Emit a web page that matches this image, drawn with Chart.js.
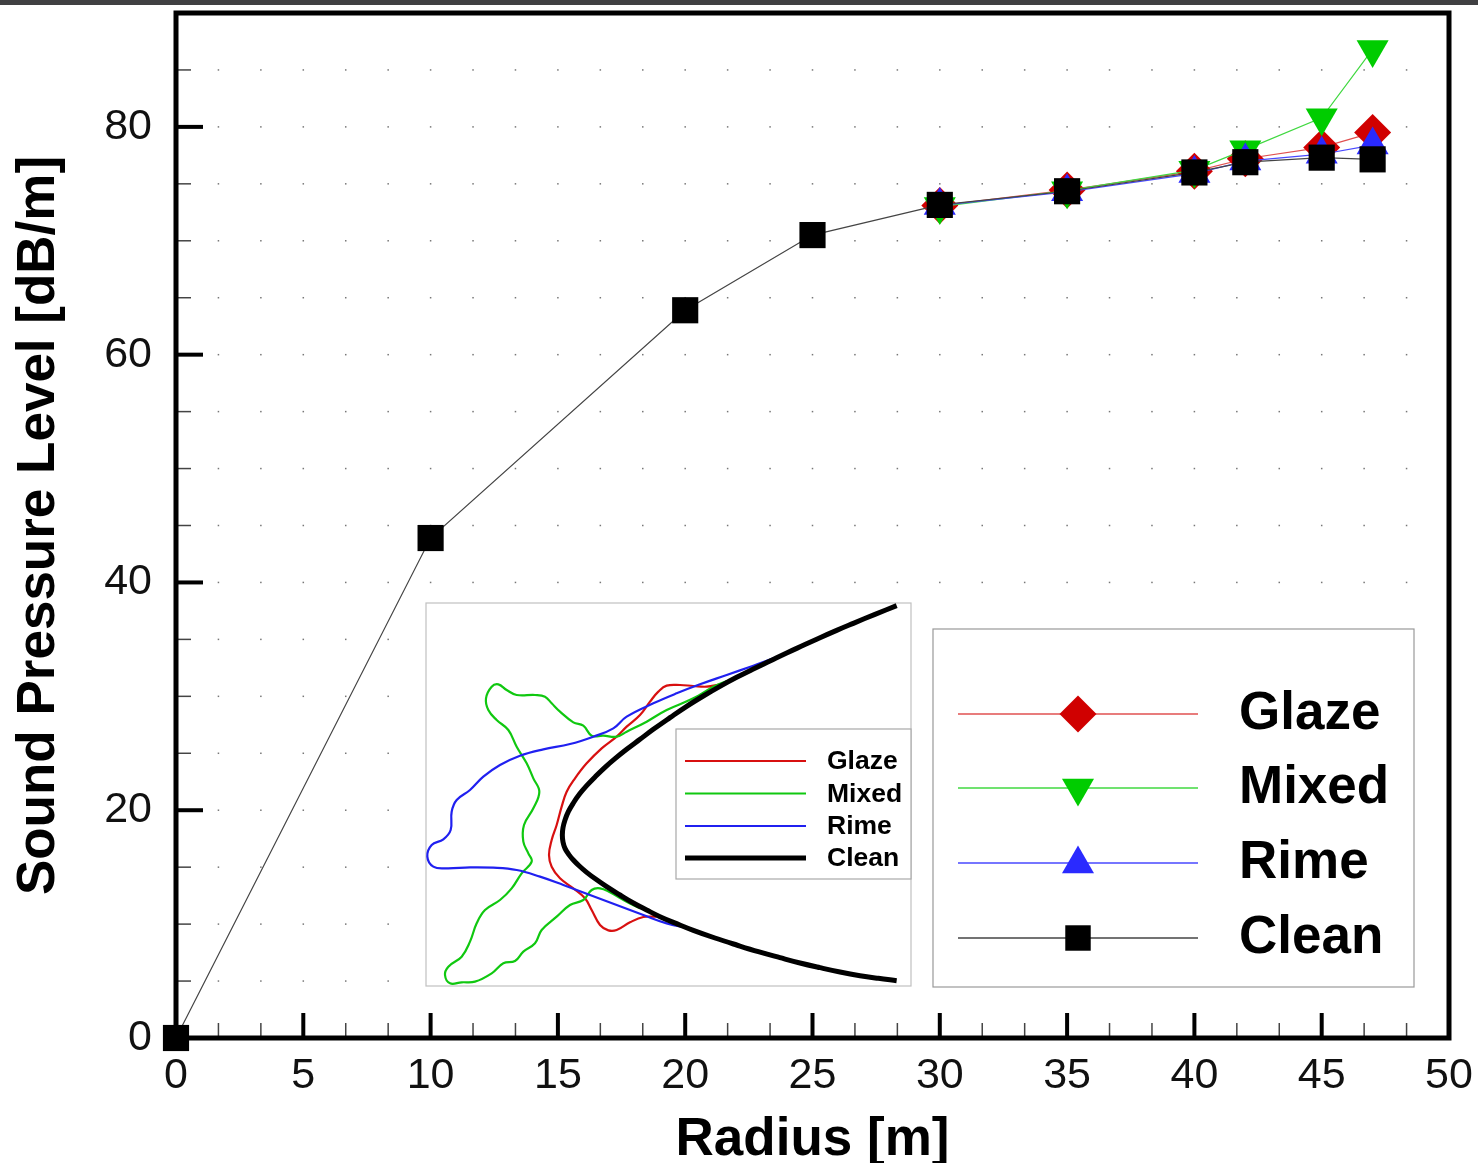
<!DOCTYPE html>
<html><head><meta charset="utf-8">
<script src="https://cdn.jsdelivr.net/npm/chart.js@4"></script>
<style>
html,body{margin:0;padding:0;background:#fff;width:1478px;height:1163px;overflow:hidden}
#bar{position:absolute;left:0;top:0;width:1478px;height:5px;background:#404042}
canvas{position:absolute;display:block;filter:blur(.35px)}
#main{left:0;top:0}
#inset{left:420px;top:595px}
</style></head><body>
<div id="bar"></div>
<canvas id="main" width="1478" height="1163"></canvas>
<canvas id="inset" width="500" height="400"></canvas>
<script>
const radius = [0, 10, 20, 25, 30, 35, 40, 42, 45, 47];
const glaze = [null, null, null, null, 73.1, 74.45, 76.1, 77.2, 78.2, 79.5];
const mixed = [null, null, null, null, 73.0, 74.4, 76.2, 78.0, 80.8, 86.8];
const rime = [null, null, null, null, 73.1, 74.3, 75.9, 77.0, 77.6, 78.4];
const clean = [0, 43.9, 63.9, 70.5, 73.15, 74.35, 76.0, 76.9, 77.3, 77.15];
const xTicks = [0,5/3,10/3,5,20/3,25/3,10,35/3,40/3,15,50/3,55/3,20,65/3,70/3,25,80/3,85/3,30,95/3,100/3,35,110/3,115/3,40,125/3,130/3,45,140/3,145/3,50];
const yTicks = [0,5,10,15,20,25,30,35,40,45,50,55,60,65,70,75,80,85,90];
const xLabels = [0,5,10,15,20,25,30,35,40,45,50];
const yLabels = [0,20,40,60,80];
const seriesNames = ['Glaze','Mixed','Rime','Clean'];

// Inset curves
const cleanShape = [[1430,32],[1365,58],[1300,85],[1250,106],[1200,128],[1150,151],[1100,174],[1050,198],[1000,222],[950,247],[900,274],[850,303],[800,334],[750,368],[700,403],[660,433],[620,463],[585,491],[555,517],[527,544],[500,572],[478,598],[460,624],[445,650],[435,675],[429,698],[427,720],[429,741],[435,760],[446,778],[460,795],[478,813],[500,832],[528,853],[560,875],[600,900],[640,924],[680,945],[720,965],[770,986],[820,1006],[885,1029],[950,1050],[1015,1070],[1080,1088],[1140,1104],[1200,1118],[1260,1131],[1320,1142],[1375,1150],[1430,1157]];
const glazeShape = [[900,268],[860,275],[820,273],[780,270],[740,272],[715,290],[690,320],[660,360],[620,395],[590,425],[545,460],[500,505],[465,550],[440,590],[425,635],[410,690],[395,735],[387,780],[395,815],[420,850],[460,880],[495,910],[515,945],[540,990],[565,1006],[590,1005],[630,982],[670,966],[710,965]];
const mixedShape = [[920,258],[880,275],[820,310],[740,345],[680,380],[620,410],[590,425],[550,422],[515,422],[490,392],[460,382],[420,350],[395,325],[375,305],[345,300],[290,300],[260,285],[235,268],[215,275],[198,310],[205,345],[230,375],[265,405],[290,455],[320,505],[340,550],[358,590],[340,640],[312,690],[310,740],[325,775],[335,800],[305,835],[275,880],[240,915],[195,945],[170,985],[150,1040],[125,1085],[85,1115],[75,1140],[90,1165],[125,1162],[165,1160],[215,1135],[250,1105],[285,1098],[310,1070],[345,1045],[365,1005],[410,965],[450,930],[490,915],[515,885],[540,880],[570,892],[620,920],[660,940]];
const rimeShape = [[1060,190],[1000,212],[920,240],[840,268],[770,295],[700,325],[620,365],[580,400],[520,425],[450,447],[370,463],[300,482],[240,510],[190,545],[150,585],[110,615],[95,650],[92,705],[70,733],[35,750],[22,785],[40,815],[80,820],[150,817],[220,818],[290,825],[360,845],[430,870],[510,900],[590,930],[670,960],[740,985],[810,1000]];

const RED='#d00000', GREEN='#00cc00', BLUE='#2a2aff', BLACK='#000000';
const FONT='"Liberation Sans", Arial, sans-serif';
const MARK=18.5;
const styles=[
 {c:RED, line:'#e05050', p:'rectRot', rot:0},
 {c:GREEN,line:'#40d840', p:'triangle', rot:180},
 {c:BLUE, line:'#4848ff', p:'triangle', rot:0},
 {c:BLACK,line:'#444444', p:'rect', rot:0}
];
function ds(name,vals,i){
 const s=styles[i];
 return {label:name,data:radius.map((r,k)=>({x:r,y:vals[k]})),borderColor:s.line,backgroundColor:s.c,
  pointBackgroundColor:s.c,pointBorderColor:s.c,pointBorderWidth:0,borderWidth:1.2,pointStyle:s.p,pointRotation:s.rot,
  pointRadius:MARK,pointHoverRadius:MARK,showLine:true,tension:0,clip:false,order:4-i};
}
function noPad(s){s.paddingLeft=0;s.paddingRight=0;s.paddingTop=0;s.paddingBottom=0;}
const frame={id:'frame',
 beforeDatasetsDraw(ch){
  const c=ch.ctx,x=ch.scales.x,y=ch.scales.y;
  c.save();c.fillStyle='#777';
  xTicks.forEach(a=>yTicks.forEach(b=>{c.fillRect(x.getPixelForValue(a)-.75,y.getPixelForValue(b)-.75,1.5,1.5);}));
  xTicks.forEach(a=>{const maj=xLabels.some(v=>Math.abs(v-a)<1e-6);const p=x.getPixelForValue(a);
   c.lineWidth=maj?4:1.5;c.beginPath();c.moveTo(p,y.bottom);c.lineTo(p,y.bottom-(maj?25:15));c.strokeStyle=maj?'#000':'#444';c.stroke();});
  yTicks.forEach(b=>{const maj=yLabels.includes(b);const p=y.getPixelForValue(b);
   c.lineWidth=maj?4:1.5;c.beginPath();c.moveTo(x.left,p);c.lineTo(x.left+(maj?27:15),p);c.strokeStyle=maj?'#000':'#444';c.stroke();});
  c.strokeStyle='#000';c.lineWidth=5;
  c.strokeRect(x.left,y.top,x.right-x.left,y.bottom-y.top);
  c.restore();
 },
 afterDraw(ch){
  const c=ch.ctx;c.save();
  c.fillStyle='#fff';c.fillRect(933,629,481,358);
  c.strokeStyle='#999';c.lineWidth=1.2;c.strokeRect(933,629,481,358);
  const rows=[714,788,863,938];
  seriesNames.forEach((n,i)=>{const s=styles[i];
   c.strokeStyle=s.line;c.lineWidth=1.3;c.beginPath();c.moveTo(958,rows[i]);c.lineTo(1198,rows[i]);c.stroke();
   c.fillStyle=s.c;c.strokeStyle=s.c;
   Chart.helpers.drawPoint(c,{pointStyle:s.p,rotation:s.rot,radius:i===3?18:MARK,borderWidth:0},1078,rows[i]+(i==2?1:0));
   c.fillStyle='#000';c.font='bold 53px '+FONT;c.textBaseline='middle';c.textAlign='left';
   c.fillText(n,1239,rows[i]);
  });
  c.restore();
 }};
new Chart(document.getElementById('main'),{
 type:'scatter',
 data:{datasets:[ds('Glaze',glaze,0),ds('Mixed',mixed,1),ds('Rime',rime,2),ds('Clean',clean,3)]},
 plugins:[frame],
 options:{responsive:false,animation:false,events:[],
  layout:{autoPadding:false,padding:{left:0,right:29,top:13,bottom:0}},
  plugins:{legend:{display:false},tooltip:{enabled:false}},
  scales:{
   x:{type:'linear',min:0,max:50,
     afterBuildTicks(s){s.ticks=xTicks.map(v=>({value:v}));},
     afterFit(s){s.height=125;noPad(s);},
     grid:{display:false,drawTicks:false},border:{display:false},
     ticks:{autoSkip:false,maxRotation:0,padding:12,color:'#111',font:{size:43,family:FONT},
       callback:v=>{const m=xLabels.find(k=>Math.abs(k-v)<1e-6);return m===undefined?'':String(m);}},
     title:{display:true,text:'Radius [m]',color:'#000',font:{size:53,weight:'bold',family:FONT},padding:{top:0,bottom:-9}}},
   y:{type:'linear',min:0,max:90,
     afterBuildTicks(s){s.ticks=yTicks.map(v=>({value:v}));},
     afterFit(s){s.width=176;noPad(s);},
     grid:{display:false,drawTicks:false},border:{display:false},
     ticks:{autoSkip:false,padding:24,color:'#111',font:{size:43,family:FONT},
       callback:v=>yLabels.includes(v)?String(v):''},
     title:{display:true,text:'Sound Pressure Level [dB/m]',color:'#000',font:{size:53,weight:'bold',family:FONT},padding:{top:8,bottom:0}}}
  }}
});
function shape(name,pts,col,w){
 return {label:name,data:pts.map(p=>({x:p[0],y:p[1]})),borderColor:col,borderWidth:w,pointRadius:0,showLine:true,tension:.4,fill:false,clip:false};
}
const insetPlugin={id:'insetBox',
 beforeDatasetsDraw(ch){const c=ch.ctx;c.save();c.fillStyle='#fff';c.fillRect(6,8,485,383);c.strokeStyle='#c0c0c0';c.lineWidth=1.2;c.strokeRect(6,8,485,383);c.restore();},
 afterDatasetsDraw(ch){const c=ch.ctx;c.save();
  c.fillStyle='#fff';c.fillRect(256,134,235,150);c.strokeStyle='#a8a8a8';c.lineWidth=1.2;c.strokeRect(256,134,235,150);
  const rows=[166,198.5,231,263];const cols=['#d81010','#10c810','#2020f0','#000'];
  seriesNames.forEach((n,i)=>{c.strokeStyle=cols[i];c.lineWidth=i===3?5:2.2;c.beginPath();c.moveTo(265,rows[i]);c.lineTo(386,rows[i]);c.stroke();
   c.fillStyle='#000';c.font='bold 26.5px '+FONT;c.textBaseline='middle';c.textAlign='left';c.fillText(n,407,rows[i]+1);});
  c.restore();}};
new Chart(document.getElementById('inset'),{
 type:'scatter',
 data:{datasets:[shape('Glaze',glazeShape,'#d81010',2.2),shape('Mixed',mixedShape,'#10c810',2.2),shape('Rime',rimeShape,'#2020f0',2.2),shape('Clean',cleanShape,'#000',5)].reverse()},
 plugins:[insetPlugin],
 options:{responsive:false,animation:false,events:[],layout:{autoPadding:false,padding:0},
  plugins:{legend:{display:false},tooltip:{enabled:false}},
  scales:{x:{type:'linear',min:0,max:1500,display:false},y:{type:'linear',min:0,max:1200,reverse:true,display:false}}}
});
</script>
</body></html>
